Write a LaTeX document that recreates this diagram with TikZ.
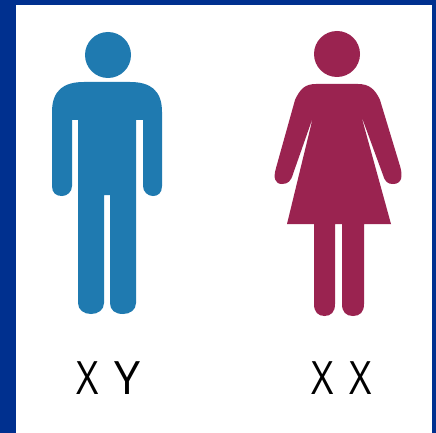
\documentclass[tikz,border=0pt]{standalone}
\usepackage{fontspec}
\setsansfont{Open Sans}
\definecolor{slideblue}{HTML}{00308F}
\definecolor{manblue}{HTML}{1F7AB0}
\definecolor{womanred}{HTML}{9A2350}
\tikzset{
    panel/.style={fill=white},
    man/.style={fill=manblue},
    woman/.style={fill=womanred},
    head/.style={circle,inner sep=0pt,minimum size=46pt},
    chromo/.style={font=\fontsize{46}{46}\sffamily,text=black,inner sep=0pt,xscale=0.84}
}
\begin{document}
\begin{tikzpicture}[x=1pt,y=-1pt]
\fill[slideblue] (0,0) rectangle (436,433);
\fill[panel] (16,5) rectangle (431.5,433);
\useasboundingbox (0,0) rectangle (436,433);
% man
\node[head,man] (manhead) at (108,55) {};
\fill[man] (84,82) -- (130,82) .. controls (150,82) and (162,90) .. (162,112)
    -- (162,186) .. controls (162,193) and (158,196) .. (153,196)
    .. controls (148,196) and (143,192) .. (143,186) -- (143,120) -- (136,120)
    -- (136,303) .. controls (136,310) and (130,314) .. (123,314)
    .. controls (115,314) and (110,310) .. (110,303) -- (110,195) -- (104,195)
    -- (104,303) .. controls (104,310) and (98,314) .. (91,314)
    .. controls (84,314) and (78,310) .. (78,303) -- (78,120) -- (72,120)
    -- (72,186) .. controls (72,192) and (67,196) .. (62,196)
    .. controls (56,196) and (52,193) .. (52,186) -- (52,112)
    .. controls (52,90) and (64,82) .. (84,82) -- cycle;
% woman
\node[head,woman] (womanhead) at (337,54) {};
\fill[woman] (316,84) -- (358,84) .. controls (369,84) and (375,89) .. (380,100)
    -- (400,166) .. controls (403,176) and (402,184) .. (393,184)
    .. controls (388,184) and (385,182) .. (383,175) -- (361,115)
    -- (391,224) -- (364,224)
    -- (364,304) .. controls (364,312) and (360,316) .. (353,316)
    .. controls (346,316) and (342,312) .. (342,304) -- (342,224) -- (335,224)
    -- (335,304) .. controls (335,312) and (331,316) .. (324.5,316)
    .. controls (318,316) and (314,312) .. (314,304) -- (314,224) -- (287,224)
    -- (313,117) -- (293,174)
    .. controls (291,181) and (288,184) .. (282,184)
    .. controls (275,184) and (273,178) .. (276,168) -- (295,100)
    .. controls (300,89) and (305,84) .. (316,84) -- cycle;
% labels
\node[chromo] (xyx) at (88,378) {X};
\node[chromo,xscale=1.2] (xyy) at (127.5,378) {Y};
\node[chromo] (xxa) at (323,378) {X};
\node[chromo] (xxb) at (361,378) {X};
\end{tikzpicture}
\end{document}
